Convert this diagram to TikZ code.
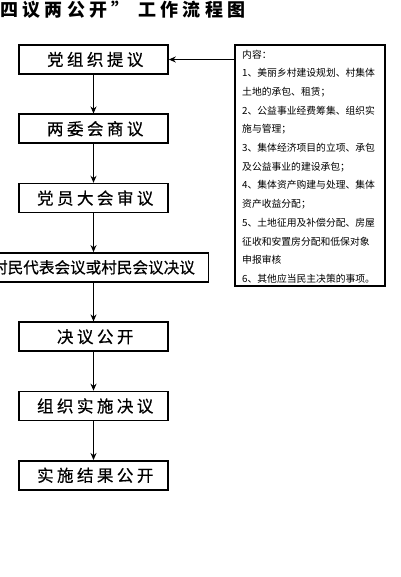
\documentclass[tikz,border=0pt]{standalone}
\usepackage{fontspec}
\setmainfont{Noto Sans CJK SC}
\newfontfamily\boxfont[LetterSpace=21,FakeBold=0.5]{Noto Sans CJK SC}
\newfontfamily\widefont[FakeBold=0.5]{Noto Sans CJK SC}
\newfontfamily\titlefont[LetterSpace=24]{Noto Sans CJK SC}
\usetikzlibrary{positioning,arrows.meta}
\begin{document}
\begin{tikzpicture}[x=1pt, y=1pt,
    >={Stealth[length=7pt,width=6pt]},
    node distance=38.7pt,
    stepbox/.style={draw, line width=1.6pt, minimum width=149pt, minimum height=29pt, inner sep=0pt,
        font=\boxfont\fontsize{16.5}{16.5}\selectfont},
    link/.style={->, line width=1.2pt}]
    \useasboundingbox (0,-577) rectangle (400,0);
    \clip (0,-577) rectangle (400,0);
    \node[anchor=west, inner sep=0pt, font=\titlefont\bfseries\fontsize{18}{18}\selectfont] (title) at (0,-10) {四议两公开” 工作流程图};
    \node[stepbox] (s1) at (93.5,-59.5) {\hspace*{3.5pt}党组织提议};
    \node[stepbox, below=of s1] (s2) {\hspace*{3.5pt}两委会商议};
    \node[stepbox, below=of s2] (s3) {\hspace*{3.5pt}党员大会审议};
    \node[stepbox, below=of s3, minimum width=230pt, font=\widefont\fontsize{15.6}{15.6}\selectfont] (s4) {村民代表会议或村民会议决议};
    \node[stepbox, below=of s4] (s5) {\hspace*{3.5pt}决议公开};
    \node[stepbox, below=of s5] (s6) {\hspace*{3.5pt}组织实施决议};
    \node[stepbox, below=of s6] (s7) {\hspace*{3.5pt}实施结果公开};
    \foreach \a/\b in {s1/s2, s2/s3, s3/s4, s4/s5, s5/s6, s6/s7}
        \draw[link] (\a) -- (\b);
    \node[draw, line width=1.6pt, anchor=north west, minimum width=150pt, minimum height=241pt] (content) at (234,-44) {};
    \node[anchor=north west, inner sep=0pt, align=left, font=\fontsize{9.8}{18.7}\selectfont] (items) at (242,-49.5) {
        内容：\\
        1、美丽乡村建设规划、村集体\\
        土地的承包、租赁；\\
        2、公益事业经费筹集、组织实\\
        施与管理；\\
        3、集体经济项目的立项、承包\\
        及公益事业的建设承包；\\
        4、集体资产购建与处理、集体\\
        资产收益分配；\\
        5、土地征用及补偿分配、房屋\\
        征收和安置房分配和低保对象\\
        申报审核\\
        6、其他应当民主决策的事项。};
    \draw[link] (s1 -| content.west) -- (s1.east);
\end{tikzpicture}
\end{document}
